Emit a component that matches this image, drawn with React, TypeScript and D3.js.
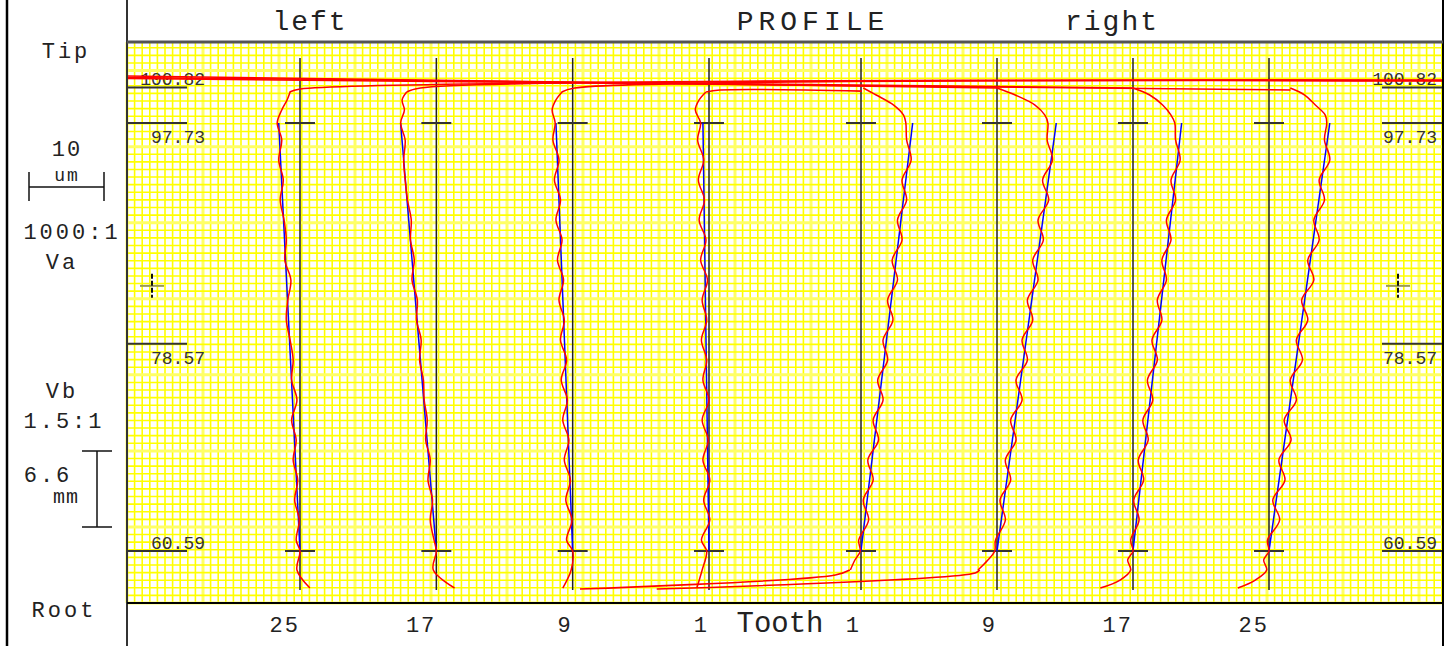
import React from 'react';
import * as d3 from 'd3';

// profile axis (mm) and evaluation range
const yTicks = [100.82, 97.73, 78.57, 60.59];
const evalTop = 97.73;
const evalBottom = 60.59;

const leftTeeth = ['25', '17', '9', '1'];
const rightTeeth = ['1', '9', '17', '25'];

// fitted (blue) line: deviation in um at evalTop, zero at evalBottom
const leftFit = [-2.8, -4.7, -2.2, -0.8];
const rightFit = [6.8, 7.8, 6.4, 8.0];

// measured (red) traces, deviation in um from the reference line
const leftLevels = [57.38, 58.94, 60.59, 61.54, 63.28, 65.02, 66.75, 68.49, 70.22, 71.96, 73.69, 75.43, 77.16, 78.9, 80.63, 82.37, 84.11, 85.84, 87.58, 89.31, 91.05, 92.78, 94.52, 96.26, 97.73, 98.86, 99.73, 100.42];
const leftDev = [
  [1.3, -0.4, 0, -0.5, -0.1, -0.7, -0.3, -0.9, -0.5, -1.1, -0.4, -1.1, -0.9, -1.3, -1.8, -1.6, -1.2, -2.0, -1.8, -2.1, -2.6, -2.2, -2.8, -2.4, -3.0, -2.4, -1.7, -1.3],
  [2.4, -0.4, 0, -0.3, -0.8, -0.5, -1.1, -0.8, -1.4, -1.2, -1.6, -1.7, -2.2, -2.0, -2.6, -2.5, -3.2, -2.9, -3.4, -3.3, -3.8, -4.1, -4.3, -4.1, -4.7, -4.2, -4.5, -3.9],
  [-1.3, -0.2, 0, -0.8, -0.1, -0.9, -0.3, -1.1, -0.5, -1.3, -0.7, -1.5, -0.8, -1.6, -1.1, -1.8, -1.2, -2.0, -1.4, -2.2, -1.6, -2.4, -1.8, -2.6, -2.3, -2.7, -2.2, -1.4],
  [-1.6, -0.9, -0.3, -1.0, 0.1, -0.7, 0.1, -0.8, -0.1, -0.9, 0, -0.8, -0.3, -1.0, -0.3, -0.9, -0.2, -1.1, -0.4, -1.3, -0.6, -1.4, -0.7, -1.5, -1.1, -1.8, -1.3, -0.4],
];
const rightLevels = [100.77, 100.16, 99.29, 98.42, 97.73, 96.26, 94.52, 92.78, 91.05, 89.31, 87.58, 85.84, 84.11, 82.37, 80.63, 78.9, 77.16, 75.43, 73.69, 71.96, 70.22, 68.49, 66.75, 65.02, 63.28, 61.54, 60.59, 59.81, 58.94, 58.07, 57.38];
const rightDev = [
  [0.3, 2.0, 4.3, 5.6, 5.9, 6.0, 6.6, 5.4, 6.0, 4.8, 5.4, 4.1, 4.8, 3.5, 4.2, 2.9, 3.5, 2.2, 2.9, 1.6, 2.3, 0.9, 1.6, 0.3, 1.0, -0.3, -0.1, -0.8, -1.4, null, null],
  [0, 2.4, 5.0, 6.3, 6.7, 6.6, 7.3, 6.0, 6.8, 5.4, 6.1, 4.7, 5.4, 4.0, 4.7, 3.3, 4.0, 2.5, 3.3, 1.8, 2.5, 1.1, 1.8, 0.4, 1.1, -0.2, -0.3, -1.2, -2.5, null, null],
  [0, 2.2, 3.9, 5.0, 5.5, 5.6, 6.2, 5.0, 5.6, 4.4, 5.0, 3.8, 4.4, 3.2, 3.8, 2.5, 3.2, 1.9, 2.6, 1.3, 2.0, 0.7, 1.4, 0.1, 0.8, -0.3, 0, -0.7, -0.3, -1.7, -4.3],
  [2.8, 4.7, 6.1, 7.4, 7.6, 7.3, 8.0, 6.6, 7.3, 5.9, 6.6, 5.1, 5.9, 4.3, 5.1, 3.6, 4.4, 2.8, 3.6, 2.0, 2.9, 1.3, 2.1, 0.5, 1.4, -0.2, 0, -0.7, -0.3, -1.8, -4.1],
];

// pen travel lines: [um from chart left, mm]
const travelLines: [number, number][][] = [
  [[0, 101.81], [114.5, 100.77]],
  [[0, 101.68], [132.4, 100.77]],
  [[0, 101.59], [153.1, 100.6]],
  [[21.4, 100.42], [22.8, 100.68], [173.2, 101.46]],
  [[36.8, 100.42], [38.6, 100.77], [173.2, 101.42]],
  [[57.2, 100.42], [58.9, 100.77], [173.2, 101.38]],
  [[76.2, 100.42], [78.0, 100.59], [96.7, 100.5]],
  [[59.6, 57.29], [93.2, 58.51], [95.1, 58.94]],
  [[69.7, 57.29], [111.6, 58.68], [112.2, 58.94]],
];

const font = '"Liberation Mono", "DejaVu Sans Mono", monospace';

export default function App() {
  const plot = { left: 127, right: 1443, top: 42, bottom: 603 };
  const y = d3.scaleLinear().domain([56.08, 104.76]).range([plot.bottom, plot.top]);
  const dev = d3.scaleLinear().domain([0, 10]).range([0, 76]);
  const gx = d3.scaleLinear().domain([0, 10]).range([plot.left, plot.left + 76]);
  const xL = d3.scalePoint<string>().domain(leftTeeth).range([300, 709]);
  const xR = d3.scalePoint<string>().domain(rightTeeth).range([861, 1269]);

  const teeth = [
    ...leftTeeth.map((t, i) => ({ label: t, x: xL(t)!, fit: leftFit[i], pts: leftLevels.map((m, k) => [m, leftDev[i][k]] as [number, number | null]) })),
    ...rightTeeth.map((t, i) => ({ label: t, x: xR(t)!, fit: rightFit[i], pts: rightLevels.map((m, k) => [m, rightDev[i][k]] as [number, number | null]) })),
  ];

  const vGrid = d3.range(0, Math.floor((plot.right - plot.left) / 7.6) + 1);
  const hGrid = d3.range(0, Math.floor((104.76 - 56.08) / 0.66) + 1);

  const travel = d3.line<[number, number]>().x(d => gx(d[0])).y(d => y(d[1])).curve(d3.curveCatmullRom.alpha(0.5));

  const txt = (s: string, x: number, yy: number, size = 22, ls = 3, anchor = 'middle') => (
    <text x={x} y={yy} fontSize={size} letterSpacing={ls} textAnchor={anchor} fill="#222" fontFamily={font}>{s}</text>
  );

  return (
    <svg width={1455} height={646} style={{ position: 'absolute', left: 0, top: 0, background: '#fff' }}>
      <rect x={0} y={0} width={1455} height={646} fill="#fff" />
      {/* grid */}
      <g>
        {vGrid.map(i => (
          <line key={'v' + i} x1={gx(i)} x2={gx(i)} y1={plot.top} y2={plot.bottom}
            stroke={i % 10 === 0 ? '#ffff66' : '#ffff00'} strokeWidth={i % 10 === 0 ? 3 : 1.6} />
        ))}
        {hGrid.map(j => (
          <line key={'h' + j} x1={plot.left} x2={plot.right} y1={y(56.08 + j * 0.66)} y2={y(56.08 + j * 0.66)}
            stroke={j % 10 === 0 ? '#ffff66' : '#ffff00'} strokeWidth={j % 10 === 0 ? 3 : 1.6} />
        ))}
      </g>

      {/* y ticks both sides */}
      {yTicks.map(v => {
        const above = v === 100.82 || v === 60.59;
        return (
          <g key={'t' + v}>
            <line x1={plot.left} x2={187} y1={y(v)} y2={y(v)} stroke="#333" strokeWidth={2} />
            <line x1={1382} x2={plot.right} y1={y(v)} y2={y(v)} stroke="#333" strokeWidth={2} />
            <text x={205} y={above ? y(v) - 2 : y(v) + 20} fontSize={18} textAnchor="end" fill="#333" fontFamily={font}>{v.toFixed(2)}</text>
            <text x={1437} y={above ? y(v) - 2 : y(v) + 20} fontSize={18} textAnchor="end" fill="#333" fontFamily={font}>{v.toFixed(2)}</text>
          </g>
        );
      })}

      {/* reference lines, crosses, fits, traces */}
      {teeth.map((t, i) => {
        const line = d3.line<[number, number | null]>()
          .defined(d => d[1] != null)
          .x(d => t.x + dev(d[1] as number))
          .y(d => y(d[0]))
          .curve(d3.curveCatmullRom.alpha(0.5));
        return (
          <g key={'tooth' + i}>
            <line x1={t.x} x2={t.x} y1={y(103.37)} y2={y(57.2)} stroke="#222" strokeWidth={1.5} />
            {[evalTop, evalBottom].map(v => (
              <line key={v} x1={t.x - 15} x2={t.x + 15} y1={y(v)} y2={y(v)} stroke="#333" strokeWidth={2} />
            ))}
            <line x1={t.x + dev(t.fit)} x2={t.x} y1={y(evalTop)} y2={y(evalBottom)} stroke="#0000ff" strokeWidth={1.5} />
            <path d={line(t.pts) || ''} fill="none" stroke="#ff0000" strokeWidth={1.5} />
          </g>
        );
      })}
      {travelLines.map((l, i) => (
        <path key={'tr' + i} d={travel(l) || ''} fill="none" stroke="#ff0000" strokeWidth={1.6} />
      ))}

      {/* small crosses */}
      {[152, 1398].map(cx => (
        <g key={'c' + cx}>
          <line x1={cx - 12} x2={cx + 12} y1={y(83.6)} y2={y(83.6)} stroke="#999955" strokeWidth={2} />
          <line x1={cx} x2={cx} y1={y(83.6) - 12} y2={y(83.6) + 12} stroke="#111" strokeWidth={2} strokeDasharray="5,2" />
        </g>
      ))}

      {/* frame */}
      <line x1={7} x2={7} y1={0} y2={646} stroke="#000" strokeWidth={2.5} />
      <line x1={plot.left} x2={plot.left} y1={0} y2={646} stroke="#333" strokeWidth={2} />
      <line x1={plot.right} x2={plot.right} y1={0} y2={646} stroke="#000" strokeWidth={2} />
      <line x1={plot.left} x2={plot.right} y1={plot.top} y2={plot.top} stroke="#555" strokeWidth={3} />
      <line x1={plot.left} x2={plot.right} y1={plot.bottom} y2={plot.bottom} stroke="#000" strokeWidth={2} />

      {/* titles */}
      {txt('left', 310, 30, 28, 2)}
      {txt('PROFILE', 813, 30, 28, 5)}
      {txt('right', 1112, 30, 28, 2)}

      {/* left panel */}
      {txt('Tip', 66, 58)}
      {txt('10', 67, 156, 22, 2)}
      {txt('um', 67, 181, 18, 2)}
      <line x1={29} x2={104} y1={187} y2={187} stroke="#111" strokeWidth={1.5} />
      <line x1={29} x2={29} y1={172} y2={201} stroke="#111" strokeWidth={1.5} />
      <line x1={104} x2={104} y1={172} y2={201} stroke="#111" strokeWidth={1.5} />
      {txt('1000:1', 72, 239)}
      {txt('Va', 62, 269)}
      {txt('Vb', 62, 398)}
      {txt('1.5:1', 64, 428)}
      {txt('6.6', 48, 482)}
      {txt('mm', 66, 503, 20, 1)}
      <line x1={97} x2={97} y1={451} y2={527} stroke="#111" strokeWidth={1.5} />
      <line x1={82} x2={112} y1={451} y2={451} stroke="#111" strokeWidth={1.5} />
      <line x1={82} x2={112} y1={527} y2={527} stroke="#111" strokeWidth={1.5} />
      {txt('Root', 64, 617)}

      {/* tooth labels */}
      {teeth.map((t, i) => (
        <text key={'lab' + i} x={t.x} y={632} fontSize={22} letterSpacing={2} textAnchor="end" fill="#222" fontFamily={font}>{t.label}</text>
      ))}
      <text x={780} y={632} fontSize={29} textAnchor="middle" fill="#222" fontFamily={font}>Tooth</text>
    </svg>
  );
}
